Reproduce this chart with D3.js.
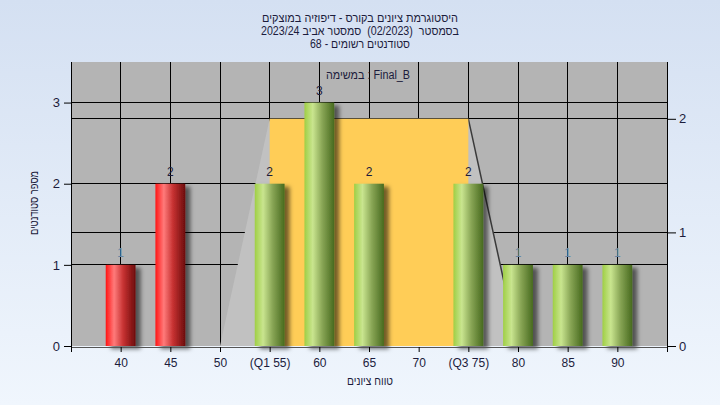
<!DOCTYPE html>
<html><head><meta charset="utf-8">
<script src="https://cdn.jsdelivr.net/npm/d3@7"></script>
<style>
html,body{margin:0;padding:0;}
text{font-family:"Liberation Sans",Arial,sans-serif;}
</style></head>
<body>
<svg id="chart" width="720" height="405"></svg>
<script>
const grades = [40,45,50,55,60,65,70,75,80,85,90];
const counts = [1,2,0,2,3,2,0,2,1,1,1];
const tickLabels = ["40","45","50","(Q1 55)","60","65","70","(Q3 75)","80","85","90"];
const passMark = 55;
const boxX = [50,55,75,80];
const boxY = [0,2,2,0];
const q1 = 55, q3 = 75, boxTop = 2;
const leftTicks = [0,1,2,3];
const rightTicks = [0,1,2];
const titleLines = ["היסטוגרמת ציונים בקורס - דיפוזיה במוצקים","בסמסטר  (02/2023)  סמסטר אביב 2023/24","סטודנטים רשומים - 68"];
const plotTitle = "במשימה : Final_B";
const yLabel = "מספר סטודנטים";
const xLabel = "טווח ציונים";

const svg = d3.select("#chart");
const W=720,H=405;
const L=71,R=667,T=62,B=346;
const x = d3.scaleLinear().domain([35,95]).range([L,R]);
const y = d3.scaleLinear().domain([0,3.5]).range([B,T]);
const y2 = d3.scaleLinear().domain([0,2.5]).range([B,T]);
const txt = "#1c1c3c";

const defs = svg.append("defs");
const bg = defs.append("linearGradient").attr("id","bg").attr("x1",0).attr("y1",0).attr("x2",0).attr("y2",1);
bg.append("stop").attr("offset","0%").attr("stop-color","#d4e0f2");
bg.append("stop").attr("offset","100%").attr("stop-color","#f0f6fd");
function hgrad(id, stops){
  const g = defs.append("linearGradient").attr("id",id).attr("x1",0).attr("y1",0).attr("x2",1).attr("y2",0);
  stops.forEach(s=>g.append("stop").attr("offset",s[0]).attr("stop-color",s[1]));
}
hgrad("gGreen",[["0%","#9fcf45"],["28%","#c9e58f"],["60%","#88a555"],["100%","#476a1e"]]);
hgrad("gRed",[["0%","#ff1616"],["28%","#ff7a7a"],["60%","#c43030"],["100%","#6c0c0c"]]);
const f = defs.append("filter").attr("id","sh").attr("x","-30%").attr("y","-10%").attr("width","170%").attr("height","130%");
f.append("feDropShadow").attr("dx",5).attr("dy",3).attr("stdDeviation",2.2).attr("flood-color","#000").attr("flood-opacity",0.55);

svg.append("rect").attr("width",W).attr("height",H).attr("fill","url(#bg)");
svg.append("rect").attr("x",L).attr("y",T).attr("width",R-L).attr("height",B-T).attr("fill","#b4b4b4");

// gridlines
const grid = svg.append("g").attr("stroke","#000").attr("stroke-width",1).attr("shape-rendering","crispEdges");
leftTicks.filter(d=>d>0).forEach(d=>grid.append("line").attr("x1",L).attr("x2",R).attr("y1",y(d)).attr("y2",y(d)));
rightTicks.filter(d=>d>0).forEach(d=>grid.append("line").attr("x1",L).attr("x2",R).attr("y1",y2(d)).attr("y2",y2(d)));
grades.forEach(g=>grid.append("line").attr("x1",x(g)).attr("x2",x(g)).attr("y1",T).attr("y2",B));

// distribution trapezoid
const pts = boxX.map((v,i)=>[x(v),y2(boxY[i])]);
svg.append("path").attr("d",d3.line()(pts)+"Z").attr("fill","#c1c1c1");
svg.append("line").attr("x1",pts[2][0]).attr("y1",pts[2][1]).attr("x2",pts[3][0]).attr("y2",pts[3][1])
  .attr("stroke","#3a3a3a").attr("stroke-width",1.5);
svg.append("rect").attr("x",x(q1)).attr("y",y2(boxTop)).attr("width",x(q3)-x(q1)).attr("height",B-y2(boxTop)).attr("fill","#ffcd57");

// bars
const bw = (x(45)-x(40))*0.6;
const data = grades.map((g,i)=>({g,c:counts[i]}));
svg.append("g").selectAll("rect").data(data.filter(d=>d.c>0)).join("rect")
  .attr("x",d=>x(d.g)-bw/2).attr("y",d=>y(d.c)).attr("width",bw).attr("height",d=>B-y(d.c))
  .attr("fill",d=>d.g<passMark?"url(#gRed)":"url(#gGreen)").attr("filter","url(#sh)");
svg.append("g").selectAll("text").data(data.filter(d=>d.c>0)).join("text")
  .attr("x",d=>x(d.g)).attr("y",d=>y(d.c)-8).attr("text-anchor","middle").attr("font-size",12)
  .attr("fill",d=>d.c===1?"#6684a4":txt).text(d=>d.c);

// axes
const ax = svg.append("g").attr("shape-rendering","crispEdges");
ax.append("line").attr("x1",L).attr("x2",R).attr("y1",B+1).attr("y2",B+1).attr("stroke","#555");
ax.append("line").attr("x1",L).attr("x2",L).attr("y1",T).attr("y2",B+6).attr("stroke","#000");
ax.append("line").attr("x1",R).attr("x2",R).attr("y1",T).attr("y2",B+6).attr("stroke","#000");
const yl = svg.append("g").attr("transform",`translate(${L},0)`).call(d3.axisLeft(y).tickValues(leftTicks).tickFormat(d3.format("d")).tickSize(7).tickPadding(4));
const yr = svg.append("g").attr("transform",`translate(${R},0)`).call(d3.axisRight(y2).tickValues(rightTicks).tickFormat(d3.format("d")).tickSize(9).tickPadding(3));
const xa = svg.append("g").attr("transform",`translate(0,${B+1})`).call(d3.axisBottom(x).tickValues(grades).tickFormat((d,i)=>tickLabels[i]).tickSize(5).tickPadding(6));
[yl,yr,xa].forEach(g=>{
  g.select(".domain").remove();
  g.selectAll(".tick line").attr("stroke","#000");
  g.selectAll(".tick text").attr("fill",txt).attr("font-size",12).attr("font-family","Liberation Sans, Arial, sans-serif");
});
yl.selectAll(".tick text").attr("font-size",13);
yr.selectAll(".tick text").attr("font-size",13);

// titles (widths matched to reference)
const titleWidths = [196,198,100];
titleLines.forEach((t,i)=>svg.append("text").attr("x",360).attr("y",22+i*13).attr("text-anchor","middle")
  .attr("direction","rtl").attr("font-size",12).attr("fill",txt).style("white-space","pre")
  .attr("textLength",titleWidths[i]).attr("lengthAdjust","spacingAndGlyphs").text(t));
svg.append("text").attr("x",368).attr("y",79).attr("text-anchor","middle").style("white-space","pre")
  .attr("font-size",12).attr("fill",txt).attr("textLength",84).attr("lengthAdjust","spacingAndGlyphs").text(plotTitle);
svg.append("text").attr("transform","translate(38,203) rotate(-90)").attr("text-anchor","middle")
  .attr("direction","rtl").attr("font-size",12).attr("fill",txt)
  .attr("textLength",64).attr("lengthAdjust","spacingAndGlyphs").text(yLabel);
svg.append("text").attr("x",370).attr("y",385).attr("text-anchor","middle").attr("direction","rtl")
  .attr("font-size",12).attr("fill",txt).attr("textLength",46).attr("lengthAdjust","spacingAndGlyphs").text(xLabel);
</script>
</body></html>
